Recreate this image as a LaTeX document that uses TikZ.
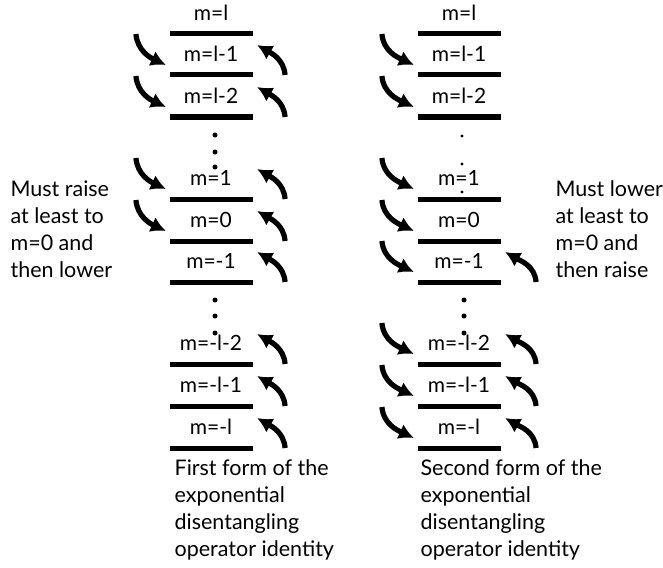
\documentclass[tikz,border=0pt]{standalone}
\usepackage{fontspec}
\setmainfont{Lato}
\usetikzlibrary{positioning,arrows.meta}
\begin{document}
\begin{tikzpicture}[x=1pt, y=1pt, line width=5.2pt,
    lvl/.style = {fill, inner sep=0pt, minimum width=83pt, minimum height=5pt},
    tag/.style = {font=\fontsize{21}{24}\selectfont, inner sep=0pt},
    txt/.style = {font=\fontsize{21.5}{27}\selectfont, align=left, inner sep=0pt, anchor=west},
    dn/.style = {-{Latex[length=15pt,width=16pt]}, out=-85, in=155},
    upa/.style = {-{Latex[length=15pt,width=16pt]}, out=95, in=-30}]
    \useasboundingbox (0,0) rectangle (663,-567);

    % the two ladders of m levels
    \foreach \n/\y/\t in {1/34/m=l, 2/75/m=l-1, 3/117/m=l-2, 4/199/m=1, 5/241/m=0,
        6/282/m=-1, 7/364/m=-l-2, 8/406/m=-l-1, 9/448/m=-l} {
        \node[lvl] (L\n) at (211,-\y) {};
        \node[tag] (Lt\n) [above=5.5pt of L\n] {\t};
        \node[lvl] (R\n) at (459,-\y) {};
        \node[tag] (Rt\n) [above=5.5pt of R\n] {\t};
    }

    % dots
    \foreach \y in {135,152,167,300,316,333} \fill (215,-\y) circle (2.5);
    \foreach \y in {136,164,192} \fill (462,-\y) circle (1.6);
    \foreach \y in {300,316,333} \fill (464,-\y) circle (2.5);

    % first form
    \foreach \k in {2,3,4,5}
        \draw[dn] ([shift={(-31,41)}]L\k.west) to ([shift={(-1,10)}]L\k.west);
    \foreach \k in {2,...,9}
        \draw[upa] ([shift={(30,0)}]L\k.east) to ([shift={(2,30)}]L\k.east);

    % second form
    \foreach \k in {2,...,9}
        \draw[dn] ([shift={(-33,41)}]R\k.west) to ([shift={(-1,10)}]R\k.west);
    \foreach \k in {6,...,9}
        \draw[upa] ([shift={(33,0)}]R\k.east) to ([shift={(2,30)}]R\k.east);

    \node[txt] (raise) at (8,-229) {Must raise\\at least to\\m=0 and\\then lower};
    \node[txt] (lower) at (553,-229) {Must lower\\at least to\\m=0 and\\then raise};
    \node[txt] (first) at (172,-510) {First form of the\\exponential\\disentangling\\operator identity};
    \node[txt] (second) at (418,-510) {Second form of the\\exponential\\disentangling\\operator identity};
\end{tikzpicture}
\end{document}
